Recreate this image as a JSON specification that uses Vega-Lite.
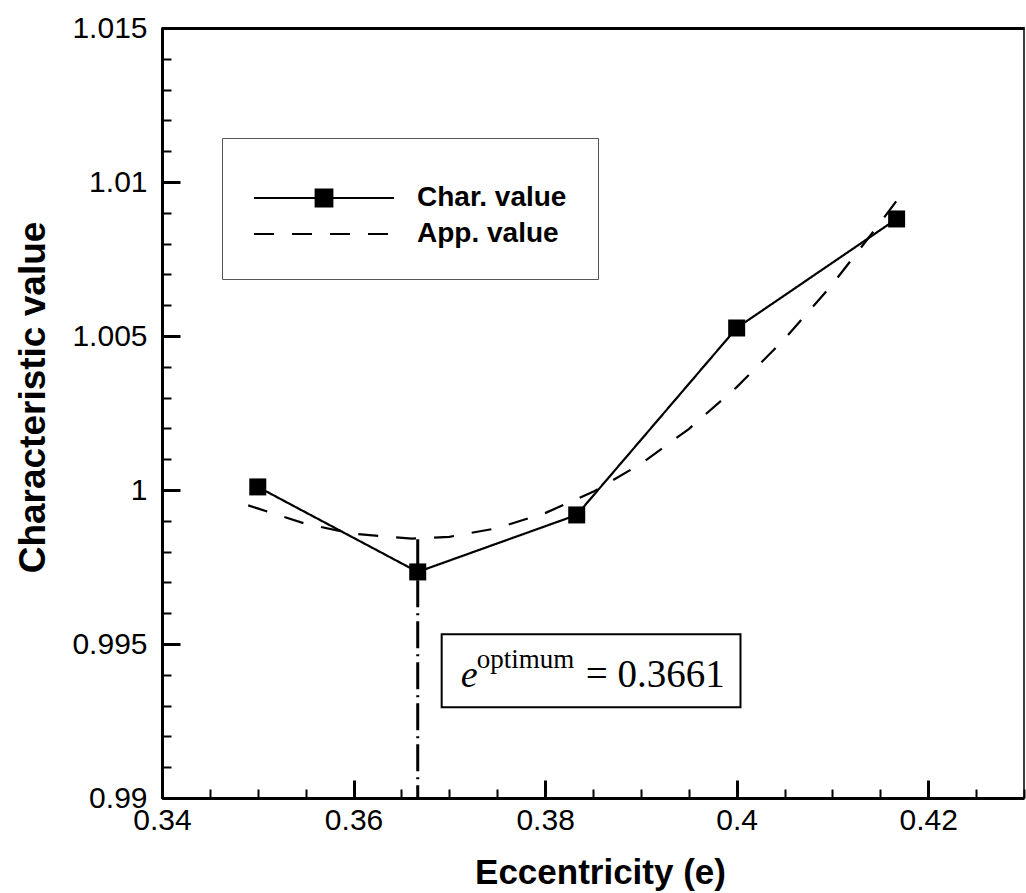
{
  "$schema": "https://vega.github.io/schema/vega-lite/v6.json",
  "width": 862,
  "height": 770,
  "autosize": {"type": "none"},
  "padding": {"left": 162, "top": 28, "right": 2, "bottom": 95},
  "background": "white",
  "config": {"view": {"stroke": "#000", "strokeWidth": 1.5}, "font": "Liberation Sans"},
  "resolve": {"axis": {"x": "independent", "y": "independent"}},
  "datasets": {
    "curves": [
      {"e": 0.35, "value": 1.0001, "series": "Char. value"},
      {"e": 0.3667, "value": 0.99734, "series": "Char. value"},
      {"e": 0.3833, "value": 0.99919, "series": "Char. value"},
      {"e": 0.4, "value": 1.00526, "series": "Char. value"},
      {"e": 0.4167, "value": 1.0088, "series": "Char. value"},
      {"e": 0.349, "value": 0.9995, "series": "App. value"},
      {"e": 0.355, "value": 0.9989, "series": "App. value"},
      {"e": 0.36, "value": 0.99858, "series": "App. value"},
      {"e": 0.3661, "value": 0.99842, "series": "App. value"},
      {"e": 0.37, "value": 0.99848, "series": "App. value"},
      {"e": 0.375, "value": 0.99876, "series": "App. value"},
      {"e": 0.38, "value": 0.99925, "series": "App. value"},
      {"e": 0.385, "value": 0.99994, "series": "App. value"},
      {"e": 0.39, "value": 1.00085, "series": "App. value"},
      {"e": 0.395, "value": 1.00198, "series": "App. value"},
      {"e": 0.4, "value": 1.00334, "series": "App. value"},
      {"e": 0.405, "value": 1.0049, "series": "App. value"},
      {"e": 0.41, "value": 1.00668, "series": "App. value"},
      {"e": 0.415, "value": 1.00868, "series": "App. value"},
      {"e": 0.4172, "value": 1.0096, "series": "App. value"}
    ],
    "opt": [{"e": 0.3667, "top": 0.9984, "bottom": 0.99}],
    "note": [{"x1": 0.3692, "x2": 0.4004, "y1": 0.99532, "y2": 0.99295}]
  },
  "layer": [
    {
      "data": {"name": "curves"},
      "mark": {"type": "line", "color": "#000", "strokeWidth": 2.2},
      "encoding": {
        "x": {
          "field": "e", "type": "quantitative",
          "scale": {"domain": [0.34, 0.43], "nice": false, "zero": false},
          "axis": {
            "orient": "bottom",
            "values": [0.34, 0.345, 0.35, 0.355, 0.36, 0.365, 0.37, 0.375, 0.38, 0.385, 0.39, 0.395, 0.4, 0.405, 0.41, 0.415, 0.42, 0.425, 0.43],
            "tickCount": 200,
            "tickSize": -9,
            "tickWidth": 2,
            "tickColor": "#000",
            "domainColor": "#000",
            "domainWidth": 3,
            "grid": false,
            "labels": false,
            "title": null
          }
        },
        "y": {
          "field": "value", "type": "quantitative",
          "scale": {"domain": [0.99, 1.015], "nice": false, "zero": false},
          "axis": {
            "orient": "left",
            "values": [0.99, 0.991, 0.992, 0.993, 0.994, 0.995, 0.996, 0.997, 0.998, 0.999, 1.0, 1.001, 1.002, 1.003, 1.004, 1.005, 1.006, 1.007, 1.008, 1.009, 1.01, 1.011, 1.012, 1.013, 1.014, 1.015],
            "tickCount": 200,
            "tickSize": -9,
            "tickWidth": 2,
            "tickColor": "#000",
            "domainColor": "#000",
            "domainWidth": 3,
            "grid": false,
            "labels": false,
            "title": null
          }
        },
        "detail": {"field": "series"},
        "strokeDash": {
          "field": "series", "type": "nominal",
          "scale": {"domain": ["Char. value", "App. value"], "range": [[1, 0], [20, 18]]},
          "legend": {
            "orient": "none",
            "legendX": 60,
            "legendY": 110,
            "title": " ",
            "titleFontSize": 7,
            "titlePadding": 7,
            "padding": 31,
            "fillColor": "#fff",
            "strokeColor": "#555",
            "symbolType": "M-5,0H5",
            "symbolSize": 784,
            "symbolStrokeWidth": 2,
            "symbolStrokeColor": "#000",
            "symbolFillColor": "#000",
            "symbolOffset": 56,
            "labelOffset": 78,
            "rowPadding": 7,
            "labelFont": "Liberation Sans",
            "labelFontWeight": "bold",
            "labelFontSize": 28,
            "labelColor": "#000",
            "labelBaseline": "middle",
            "labelLimit": 300,
            "encode": {
              "symbols": {
                "update": {
                  "shape": {"signal": "datum.value === 'Char. value' ? 'M-5,0H5M-0.6,-0.6H0.6V0.6H-0.6Z' : 'M-5,0H5'"}
                }
              }
            }
          }
        }
      }
    },
    {
      "data": {"name": "curves"},
      "transform": [{"filter": "datum.series === 'Char. value'"}],
      "mark": {"type": "point", "shape": "square", "filled": true, "color": "#000", "size": 289, "opacity": 1},
      "encoding": {
        "x": {
          "field": "e", "type": "quantitative",
          "axis": {
            "orient": "bottom",
            "values": [0.34, 0.36, 0.38, 0.4, 0.42],
            "tickCount": 200,
            "format": "~g",
            "tickSize": -18,
            "tickWidth": 3,
            "tickColor": "#000",
            "domain": false,
            "grid": false,
            "labelFont": "Liberation Sans",
            "labelFontSize": 30,
            "labelColor": "#000",
            "labelPadding": 25,
            "labelFlush": false,
            "labelOverlap": false,
            "labelBound": false,
            "title": "Eccentricity (e)",
            "titleFont": "Liberation Sans",
            "titleFontWeight": "bold",
            "titleFontSize": 35,
            "titleColor": "#000",
            "titleX": 438,
            "titleY": 85,
            "titleBaseline": "alphabetic",
            "titleAlign": "center"
          }
        },
        "y": {
          "field": "value", "type": "quantitative",
          "axis": {
            "orient": "left",
            "values": [0.99, 0.995, 1.0, 1.005, 1.01, 1.015],
            "tickCount": 200,
            "format": "~g",
            "tickSize": -18,
            "tickWidth": 3,
            "tickColor": "#000",
            "domain": false,
            "grid": false,
            "labelFont": "Liberation Sans",
            "labelFontSize": 30,
            "labelColor": "#000",
            "labelPadding": 33,
            "labelFlush": false,
            "labelOverlap": false,
            "labelBound": false,
            "title": "Characteristic value",
            "titleFont": "Liberation Sans",
            "titleFontWeight": "bold",
            "titleFontSize": 37,
            "titleColor": "#000",
            "titleAngle": -90,
            "titleX": -129,
            "titleY": 369,
            "titleAlign": "center",
            "titleBaseline": "middle"
          }
        }
      }
    },
    {
      "data": {"name": "opt"},
      "mark": {"type": "rule", "color": "#000", "strokeWidth": 3, "strokeDash": [27, 6, 2, 6]},
      "encoding": {
        "x": {"field": "e", "type": "quantitative", "axis": null},
        "y": {"field": "top", "type": "quantitative", "axis": null},
        "y2": {"field": "bottom"}
      }
    },
    {
      "data": {"name": "note"},
      "mark": {"type": "rect", "fill": "#fff", "stroke": "#000", "strokeWidth": 2},
      "encoding": {
        "x": {
          "field": "x1", "type": "quantitative",
          "axis": {"orient": "top", "labels": false, "ticks": false, "grid": false, "title": null, "domainColor": "#000", "domainWidth": 3}
        },
        "x2": {"field": "x2"},
        "y": {"field": "y1", "type": "quantitative", "axis": null},
        "y2": {"field": "y2"}
      }
    },
    {
      "data": {"name": "note"},
      "mark": {"type": "text", "text": "e", "font": "Liberation Serif", "fontStyle": "italic", "fontSize": 38, "align": "left", "baseline": "alphabetic", "dx": 19, "dy": 53, "color": "#000"},
      "encoding": {
        "x": {"field": "x1", "type": "quantitative", "axis": null},
        "y": {"field": "y1", "type": "quantitative", "axis": null}
      }
    },
    {
      "data": {"name": "note"},
      "mark": {"type": "text", "text": "optimum", "font": "Liberation Serif", "fontSize": 27, "align": "left", "baseline": "alphabetic", "dx": 35, "dy": 34, "color": "#000"},
      "encoding": {
        "x": {"field": "x1", "type": "quantitative", "axis": null},
        "y": {"field": "y1", "type": "quantitative", "axis": null}
      }
    },
    {
      "data": {"name": "note"},
      "mark": {"type": "text", "text": "= 0.3661", "font": "Liberation Serif", "fontSize": 39, "align": "left", "baseline": "alphabetic", "dx": 144, "dy": 53, "color": "#000"},
      "encoding": {
        "x": {"field": "x1", "type": "quantitative", "axis": null},
        "y": {"field": "y1", "type": "quantitative", "axis": null}
      }
    }
  ]
}
